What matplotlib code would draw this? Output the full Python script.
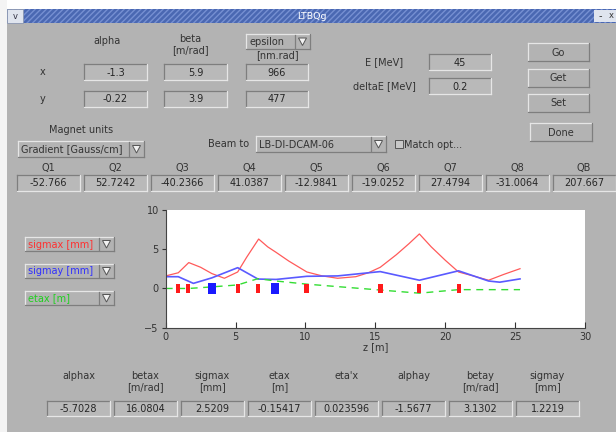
import matplotlib.pyplot as plt
from matplotlib.patches import Polygon, Rectangle

plt.rcParams["font.family"] = ["DejaVu Sans"]

# beam envelope along the line
z_sigmax = [0, 0.9, 1.65, 2.5, 3.3, 4.2, 5.15, 5.8, 6.65, 7.3, 7.9, 8.8, 10.1,
            11.2, 12.3, 13.6, 14.5, 15.35, 16.5, 17.4, 18.15, 19.0, 20.0, 20.95,
            22.0, 23.1, 24.2, 25.35]
sigmax = [1.6, 2.0, 3.3, 2.7, 1.9, 1.3, 2.1, 4.0, 6.3, 5.3, 4.6, 3.5, 2.1,
          1.6, 1.3, 1.5, 2.0, 2.7, 4.3, 5.7, 6.95, 5.3, 3.6, 2.1,
          1.6, 1.05, 1.8, 2.52]
z_sigmay = [0, 0.9, 1.98, 3.3, 5.15, 6.6, 7.9, 10.1, 12.3, 15.35, 18.15,
            20.95, 23.1, 23.9, 25.35]
sigmay = [1.5, 1.5, 0.65, 1.35, 2.65, 1.2, 1.15, 1.55, 1.6, 2.15, 1.05,
          2.25, 0.95, 0.8, 1.22]
z_etax = [0, 1.65, 3.3, 5.15, 6.6, 7.9, 10.1, 15.35, 18.15, 20.95, 25.35]
etax = [0, 0.0, 0.2, 0.45, 1.25, 0.95, 0.55, -0.2, -0.6, -0.15, -0.15]

quad_z = [0.9, 1.62, 5.15, 6.58, 10.08, 15.37, 18.13, 20.97]
bend_z = [3.31, 7.84]

# widget contents
init_x = ["-1.3", "5.9", "966"]
init_y = ["-0.22", "3.9", "477"]
energy_labels = ["E [MeV]", "deltaE [MeV]"]
energy_values = ["45", "0.2"]
quad_names = ["Q1", "Q2", "Q3", "Q4", "Q5", "Q6", "Q7", "Q8", "QB"]
quad_values = ["-52.766", "52.7242", "-40.2366", "41.0387", "-12.9841",
               "-19.0252", "27.4794", "-31.0064", "207.667"]
out_names = ["alphax", "betax\n[m/rad]", "sigmax\n[mm]", "etax\n[m]", "eta'x",
             "alphay", "betay\n[m/rad]", "sigmay\n[mm]"]
out_values = ["-5.7028", "16.0804", "2.5209", "-0.15417", "0.023596",
              "-1.5677", "3.1302", "1.2219"]
buttons = ["Go", "Get", "Set"]

BG = "#b3b3b3"
TXT = "#333333"
FS = 7.0


def box(ax, x0, y0, x1, y1, sunken=True, face=BG):
    ax.add_patch(Rectangle((x0, y0), x1 - x0, y1 - y0, facecolor=face,
                           edgecolor="none", zorder=1))
    dark, light = ("#7e7e7e", "#e6e6e6") if sunken else ("#e6e6e6", "#7e7e7e")
    ax.plot([x0, x1], [y0, y0], color=dark, lw=0.9, zorder=2)
    ax.plot([x0, x0], [y0, y1], color=dark, lw=0.9, zorder=2)
    ax.plot([x0, x1], [y1, y1], color=light, lw=0.9, zorder=2)
    ax.plot([x1, x1], [y0, y1], color=light, lw=0.9, zorder=2)


def entry(ax, x0, y0, x1, y1, text):
    box(ax, x0, y0, x1, y1, sunken=True, face="#b9b9b9")
    ax.text((x0 + x1) / 2, (y0 + y1) / 2 + 0.5, text, ha="center", va="center",
            fontsize=FS, color="#262626")


def button(ax, x0, y0, x1, y1, text):
    box(ax, x0, y0, x1, y1, sunken=False)
    ax.text((x0 + x1) / 2, (y0 + y1) / 2 + 0.5, text, ha="center", va="center",
            fontsize=FS, color=TXT)


def dropdown(ax, x0, y0, x1, y1, text, color=TXT):
    box(ax, x0, y0, x1, y1, sunken=False)
    aw = 15
    ax.plot([x1 - aw, x1 - aw], [y0 + 1, y1 - 1], color="#7e7e7e", lw=0.9, zorder=3)
    cx, cy = x1 - aw / 2, (y0 + y1) / 2
    ax.add_patch(Polygon([[cx - 4, cy - 3.5], [cx + 4, cy - 3.5], [cx, cy + 4]],
                         facecolor="#f2f2f2", edgecolor="#555555", lw=0.7, zorder=3))
    ax.text(x0 + 3, cy + 0.5, text, ha="left", va="center", fontsize=FS, color=color)


fig = plt.figure(figsize=(6.16, 4.32), dpi=100)
fig.patch.set_facecolor(BG)
bg = fig.add_axes([0, 0, 1, 1])
bg.set_xlim(0, 616)
bg.set_ylim(432, 0)
bg.axis("off")

# window frame and title bar
bg.add_patch(Rectangle((0, 0), 616, 9, facecolor="white", edgecolor="none"))
bg.add_patch(Rectangle((0, 0), 6.5, 432, facecolor="#f4f4f4", edgecolor="none"))
bg.add_patch(Rectangle((7, 9), 609, 14, facecolor="#4a68b2", edgecolor="#7690d2",
                       lw=0, hatch="//////"))
bg.add_patch(Rectangle((7, 9), 16, 14, facecolor="#dfe4ee", edgecolor="#8a96b0", lw=0.6))
bg.text(15, 16.5, "v", ha="center", va="center", fontsize=6, color="#334")
bg.add_patch(Rectangle((594, 10), 22, 12, facecolor="#dfe4ee", edgecolor="none"))
bg.text(600, 16, "-", ha="center", va="center", fontsize=7, color="#333")
bg.text(611, 16, "x", ha="center", va="center", fontsize=6, color="#333")
bg.text(312, 16.5, "LTBQg", ha="center", va="center", fontsize=6.8, color="white")

# initial twiss block
bg.text(107, 36, "alpha", ha="center", va="top", fontsize=FS, color=TXT)
bg.text(190, 34, "beta\n[m/rad]", ha="center", va="top", fontsize=FS, color=TXT,
        linespacing=1.1)
dropdown(bg, 246, 34, 310, 49, "epsilon")
bg.text(277, 55, "[nm.rad]", ha="center", va="center", fontsize=FS, color=TXT)
bg.text(43, 72, "x", ha="center", va="center", fontsize=FS, color=TXT)
bg.text(43, 99, "y", ha="center", va="center", fontsize=FS, color=TXT)
col_x = [(84, 147), (164, 227), (246, 308)]
for (x0, x1), vx, vy in zip(col_x, init_x, init_y):
    entry(bg, x0, 64, x1, 80, vx)
    entry(bg, x0, 91, x1, 107, vy)

for i, (lab, val) in enumerate(zip(energy_labels, energy_values)):
    y = 62 + 24 * i
    bg.text(384, y, lab, ha="center", va="center", fontsize=FS, color=TXT)
    entry(bg, 429, y - 8, 491, y + 8, val)

for i, lab in enumerate(buttons):
    y0 = 43 + 25.5 * i
    button(bg, 528, y0, 589, y0 + 18, lab)
button(bg, 530, 123, 592, 141, "Done")

# magnet units / beam to
bg.text(81, 130, "Magnet units", ha="center", va="center", fontsize=FS, color=TXT)
dropdown(bg, 18, 141, 144, 157, "Gradient [Gauss/cm]")
bg.text(229, 144, "Beam to", ha="center", va="center", fontsize=FS, color=TXT)
dropdown(bg, 256, 136, 386, 152, "LB-DI-DCAM-06")
bg.add_patch(Rectangle((395, 140), 8, 8, facecolor="#c8c8c8", edgecolor="#555555", lw=0.7))
bg.text(404, 144.5, "Match opt...", ha="left", va="center", fontsize=FS, color=TXT)

# quad strengths
for i, (name, val) in enumerate(zip(quad_names, quad_values)):
    x0 = 17 + 67 * i
    bg.text(x0 + 31, 168, name, ha="center", va="center", fontsize=FS, color=TXT)
    entry(bg, x0, 175, x0 + 63, 191, val)

# plot selectors
dropdown(bg, 25, 237, 114, 251, "sigmax [mm]", color="#ff3030")
dropdown(bg, 25, 264, 114, 278, "sigmay [mm]", color="#3030ff")
dropdown(bg, 25, 291, 114, 305, "etax [m]", color="#20d020")

# output twiss block
for i, (name, val) in enumerate(zip(out_names, out_values)):
    x0 = 47 + 67 * i
    bg.text(x0 + 31.5, 371, name, ha="center", va="top", fontsize=FS, color=TXT,
            linespacing=1.1)
    entry(bg, x0, 401, x0 + 63, 416, val)

# envelope plot
ax = fig.add_axes([165.7 / 616, 1 - 327.7 / 432, (585 - 165.7) / 616, (327.7 - 210) / 432])
ax.set_facecolor("white")
ax.plot(z_sigmax, sigmax, color="#ff5a5a", lw=0.9, zorder=2)
ax.plot(z_sigmay, sigmay, color="#5a5aff", lw=1.2, zorder=2)
ax.plot(z_etax, etax, color="#33dd33", lw=1.0, ls=(0, (5, 4)), zorder=2)
ax.bar(quad_z, [1.2] * len(quad_z), bottom=-0.6, width=0.3, color="#ff1a1a", zorder=3)
ax.bar(bend_z, [1.3] * len(bend_z), bottom=-0.65, width=0.6, color="#1a1aff", zorder=3)
ax.set_xlim(0, 30)
ax.set_ylim(-5, 10)
ax.set_xticks([0, 5, 10, 15, 20, 25, 30])
ax.set_yticks([-5, 0, 5, 10])
ax.tick_params(axis="x", direction="in", length=4, labelsize=7, pad=3, colors="#333333")
ax.tick_params(axis="y", direction="out", length=3, labelsize=7, pad=2, colors="#333333")
for s in ["top", "right"]:
    ax.spines[s].set_visible(False)
for s in ["left", "bottom"]:
    ax.spines[s].set_color("#444444")
    ax.spines[s].set_linewidth(0.8)
ax.set_xlabel("z [m]", fontsize=7, labelpad=0, color="#333333")

fig.savefig("out.png", dpi=100, facecolor=BG)
